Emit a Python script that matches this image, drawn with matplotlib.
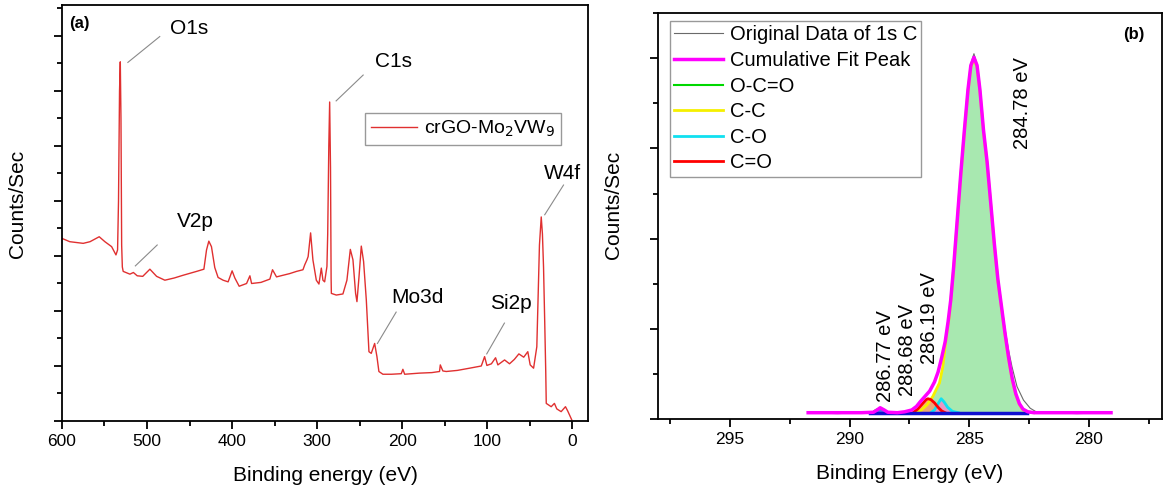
import matplotlib
matplotlib.use("Agg")
import matplotlib.pyplot as plt
from matplotlib.ticker import MultipleLocator, NullFormatter

plt.rcParams['font.family'] = ['Liberation Sans', 'DejaVu Sans']

# ---- panel (a): survey spectrum, binding energy (eV) vs counts (arb.) ----
survey_ev = [600, 590.8, 575, 567, 556.2, 549.5, 541.6, 536.5, 534.6, 533.5, 532.3, 531.4,
             530.6, 529.8, 529, 528, 520.1, 516, 511.5, 505, 496.6, 488.7, 479, 468, 457.5,
             441.7, 433.1, 430, 427.3, 424.2, 420.3, 416.4, 410.5, 404.6, 399.9, 396.7,
             391.6, 382.9, 379, 377, 366, 355.5, 352.4, 347.7, 340, 332.2, 324.2, 316.6,
             314.5, 311.9, 310.5, 307.6, 304.9, 300.9, 297.8, 295, 293.1, 291.1, 288.4,
             287.5, 286.2, 285.2, 284.2, 283.5, 283.2, 277.4, 269.6, 264.9, 260.9, 257.8,
             254.7, 253.1, 250.8, 248, 245.3, 242.1, 239, 236.3, 232.3, 229.6, 227.3,
             222.6, 212.5, 201, 199.1, 197, 180, 165, 156, 155.1, 152.1, 148.1, 135, 120.7,
             106.9, 103, 100.3, 95, 90.1, 87.4, 79.5, 73.7, 68, 62.7, 57, 52.2, 49.4, 45.4,
             41.6, 40.0, 38.5, 36.4, 35, 33.7, 32.3, 31.1, 30.5, 24.7, 20.9, 18.1, 13, 7.9,
             5.2, 0.5]
survey_counts = [3.32, 3.26, 3.23, 3.26, 3.35, 3.26, 3.17, 3.02, 3.11, 4.0, 6.0, 6.53,
                 5.5, 3.2, 2.8, 2.72, 2.67, 2.70, 2.64, 2.63, 2.76, 2.63, 2.56, 2.60, 2.65,
                 2.72, 2.76, 3.11, 3.27, 3.17, 2.79, 2.61, 2.56, 2.53, 2.73, 2.60, 2.45,
                 2.50, 2.64, 2.50, 2.52, 2.58, 2.75, 2.62, 2.65, 2.68, 2.72, 2.75, 2.84,
                 2.93, 2.99, 3.42, 2.93, 2.56, 2.49, 2.78, 2.56, 2.53, 2.81, 3.4, 5.0, 5.8,
                 4.6, 2.6, 2.32, 2.29, 2.31, 2.56, 3.12, 2.93, 2.32, 2.17, 2.6, 3.18, 2.9,
                 2.2, 1.26, 1.23, 1.41, 1.17, 0.90, 0.85, 0.85, 0.86, 0.94, 0.85, 0.87,
                 0.88, 0.90, 1.02, 0.91, 0.90, 0.92, 0.96, 1.0, 1.17, 1.01, 1.04, 1.15,
                 1.02, 1.11, 1.04, 1.12, 1.22, 1.16, 1.26, 1.02, 0.96, 1.35, 2.3, 3.2, 3.71,
                 3.4, 2.8, 1.8, 0.9, 0.32, 0.26, 0.32, 0.22, 0.17, 0.26, 0.18, 0.02]

# peak labels: (text, label x, label y, line start x, y, line end x, y)
peak_names = ['O1s', 'C1s', 'V2p', 'Mo3d', 'Si2p', 'W4f']
label_xy = [(450, 7.14), (210, 6.53), (443, 3.62), (182, 2.24), (72, 2.14), (12, 4.5)]
leader_from = [(522.5, 6.52), (277.6, 5.82), (513.7, 2.82), (229, 1.41), (100.5, 1.22), (32.3, 3.75)]
leader_to = [(485, 6.99), (245.8, 6.29), (488, 3.2), (207, 1.98), (79.7, 1.78), (10.2, 4.29)]

# ---- panel (b): C 1s high resolution ----
orig_ev = [291.73, 290.5, 289.5, 289.0, 288.85, 288.72, 288.55, 288.4, 288.0, 287.7, 287.4,
           287.2, 287.05, 286.85, 286.65, 286.45, 286.3, 286.15, 286.0, 285.88, 285.77,
           285.65, 285.5, 285.35, 285.2, 285.05, 284.93, 284.80, 284.67, 284.55, 284.40,
           284.25, 284.10, 283.95, 283.80, 283.65, 283.50, 283.35, 283.21, 283.0, 282.73,
           282.45, 282.2, 281.5, 280.5, 279.07]
orig_counts = [0.07, 0.06, 0.07, 0.075, 0.10, 0.125, 0.10, 0.075, 0.07, 0.08, 0.10, 0.14,
               0.19, 0.25, 0.31, 0.41, 0.52, 0.68, 0.86, 1.08, 1.32, 1.68, 2.20, 2.72, 3.20,
               3.66, 3.94, 4.05, 3.93, 3.66, 3.21, 2.86, 2.41, 1.96, 1.57, 1.28, 1.00, 0.76,
               0.58, 0.36, 0.21, 0.12, 0.08, 0.07, 0.06, 0.07]

fit_ev = [291.73, 289.5, 289.0, 288.85, 288.72, 288.55, 288.4, 288.0, 287.7, 287.4, 287.2,
          287.05, 286.85, 286.65, 286.45, 286.3, 286.15, 286.0, 285.88, 285.77, 285.65,
          285.5, 285.35, 285.2, 285.05, 284.93, 284.80, 284.67, 284.55, 284.40, 284.25,
          284.10, 283.95, 283.80, 283.65, 283.50, 283.35, 283.20, 283.05, 282.90, 282.75,
          282.55, 282.30, 279.07]
fit_counts = [0.07, 0.07, 0.075, 0.10, 0.125, 0.10, 0.075, 0.07, 0.08, 0.10, 0.14, 0.19,
              0.25, 0.31, 0.41, 0.52, 0.68, 0.86, 1.08, 1.32, 1.68, 2.20, 2.72, 3.20, 3.65,
              3.92, 4.01, 3.92, 3.65, 3.20, 2.85, 2.40, 1.95, 1.55, 1.25, 0.95, 0.68, 0.45,
              0.28, 0.17, 0.11, 0.08, 0.07, 0.07]

cc_ev = [287.3, 287.0, 286.75, 286.52, 286.24, 286.10, 285.97, 285.83, 285.77, 285.65,
         285.5, 285.35, 285.2, 285.05, 284.93, 284.80, 284.67, 284.55, 284.40, 284.25,
         284.10, 283.95, 283.80, 283.65, 283.50, 283.35, 283.20, 283.05, 282.90, 282.75,
         282.55, 282.30]
cc_counts = [0.07, 0.10, 0.16, 0.25, 0.40, 0.58, 0.88, 1.14, 1.30, 1.66, 2.18, 2.70, 3.18,
             3.63, 3.90, 3.99, 3.90, 3.63, 3.18, 2.83, 2.38, 1.93, 1.53, 1.23, 0.93, 0.66,
             0.43, 0.27, 0.16, 0.10, 0.08, 0.07]

co_ev = [286.6, 286.45, 286.3, 286.17, 286.05, 285.9, 285.7, 285.45]
co_counts = [0.07, 0.10, 0.17, 0.225, 0.19, 0.13, 0.085, 0.07]

c_dbl_o_ev = [287.35, 287.15, 286.95, 286.8, 286.72, 286.6, 286.45, 286.3, 286.15, 286.0]
c_dbl_o_counts = [0.07, 0.11, 0.17, 0.215, 0.225, 0.215, 0.18, 0.13, 0.09, 0.07]

ococ_ev = [289.05, 288.9, 288.72, 288.55, 288.4]
ococ_counts = [0.07, 0.10, 0.12, 0.10, 0.07]

base_ev = [289.15, 282.6]
base_counts = [0.072, 0.072]

# rotated peak position labels: (text, x, y)
pos_text = ['284.78 eV', '286.19 eV', '288.68 eV', '286.77 eV']
pos_xy = [(282.75, 3.5), (286.65, 1.12), (287.58, 0.76), (288.50, 0.70)]

fig = plt.figure(figsize=(11.69, 4.95), dpi=100)
ax_a = fig.add_axes([0.053, 0.1495, 0.45, 0.840])
ax_b = fig.add_axes([0.563, 0.1535, 0.431, 0.820])

for ax in (ax_a, ax_b):
    for sp in ax.spines.values():
        sp.set_linewidth(1.3)
    ax.tick_params(which='major', direction='out', length=6, width=1.3, labelsize=12.5)
    ax.tick_params(which='minor', direction='out', length=3.5, width=1.3)
    ax.yaxis.set_major_formatter(NullFormatter())

# (a)
ax_a.plot(survey_ev, survey_counts, color='#e03030', lw=1.0, label='crGO-Mo$_2$VW$_9$')
for name, (tx, ty), (x0, y0), (x1, y1) in zip(peak_names, label_xy, leader_from, leader_to):
    ax_a.plot([x0, x1], [y0, y1], color='#8a8a8a', lw=0.8)
    ax_a.text(tx, ty, name, fontsize=15, ha='center', va='center')
ax_a.text(0.013, 0.975, '(a)', transform=ax_a.transAxes, fontsize=12, fontweight='bold',
          ha='left', va='top')
ax_a.set_xlim(600, -18.6)
ax_a.set_ylim(0, 7.56)
ax_a.xaxis.set_major_locator(MultipleLocator(100))
ax_a.xaxis.set_minor_locator(MultipleLocator(50))
ax_a.yaxis.set_major_locator(MultipleLocator(1))
ax_a.yaxis.set_minor_locator(MultipleLocator(0.5))
ax_a.set_xlabel('Binding energy (eV)', fontsize=15, labelpad=12)
ax_a.set_ylabel('Counts/Sec', fontsize=15)
ax_a.yaxis.set_label_coords(-0.066, 0.522)
leg_a = ax_a.legend(loc='upper left', bbox_to_anchor=(0.576, 0.740), borderaxespad=0,
                    fancybox=False, fontsize=14, handlelength=2.4, handletextpad=0.35,
                    borderpad=0.3)
leg_a.get_frame().set_edgecolor('#808080')
leg_a.get_frame().set_linewidth(1.0)

# (b)
ax_b.fill_between(cc_ev, 0.07, cc_counts, color='#a8e8b0', lw=0)
ax_b.fill_between(c_dbl_o_ev, 0.07, c_dbl_o_counts, color='#f4a070', alpha=0.9, lw=0)
ax_b.fill_between(co_ev, 0.07, co_counts, color='#f090c8', alpha=0.9, lw=0)
ax_b.fill_between(ococ_ev, 0.07, ococ_counts, color='#4060e0', alpha=0.9, lw=0)
ax_b.plot(orig_ev, orig_counts, color='#6a6a6a', lw=0.8, label='Original Data of 1s C')
ax_b.plot(ococ_ev, ococ_counts, color='#00d800', lw=1.5, label='O-C=O', zorder=3)
ax_b.plot(cc_ev, cc_counts, color='#f5f000', lw=2.0, label='C-C', zorder=3)
ax_b.plot(co_ev, co_counts, color='#10e0f0', lw=2.0, label='C-O', zorder=3)
ax_b.plot(c_dbl_o_ev, c_dbl_o_counts, color='#ff0000', lw=2.0, label='C=O', zorder=3)
ax_b.plot(base_ev, base_counts, color='#1010d0', lw=2.5, zorder=3)
ax_b.plot(fit_ev, fit_counts, color='#ff00ff', lw=2.5, label='Cumulative Fit Peak', zorder=4)
for t, (x, y) in zip(pos_text, pos_xy):
    ax_b.text(x, y, t, rotation=90, fontsize=14.5, ha='center', va='center')
ax_b.text(0.965, 0.965, '(b)', transform=ax_b.transAxes, fontsize=12, fontweight='bold',
          ha='right', va='top')
ax_b.set_xlim(298.0, 276.94)
ax_b.set_ylim(0, 4.5)
ax_b.xaxis.set_major_locator(MultipleLocator(5))
ax_b.xaxis.set_minor_locator(MultipleLocator(2.5))
ax_b.yaxis.set_major_locator(MultipleLocator(1))
ax_b.yaxis.set_minor_locator(MultipleLocator(0.5))
ax_b.set_xlabel('Binding Energy (eV)', fontsize=15, labelpad=12)
ax_b.set_ylabel('Counts/Sec', fontsize=15)
ax_b.yaxis.set_label_coords(-0.069, 0.527)

handles, labels = ax_b.get_legend_handles_labels()
order = ['Original Data of 1s C', 'Cumulative Fit Peak', 'O-C=O', 'C-C', 'C-O', 'C=O']
hl = [handles[labels.index(o)] for o in order]
leg_b = ax_b.legend(hl, order, loc='upper left', bbox_to_anchor=(0.024, 0.980),
                    borderaxespad=0, fancybox=False, fontsize=14.5, handlelength=2.4,
                    labelspacing=0.33, borderpad=0.2, handletextpad=0.35)
leg_b.get_frame().set_edgecolor('#808080')
leg_b.get_frame().set_linewidth(1.0)

fig.savefig('out.png', dpi=100)
